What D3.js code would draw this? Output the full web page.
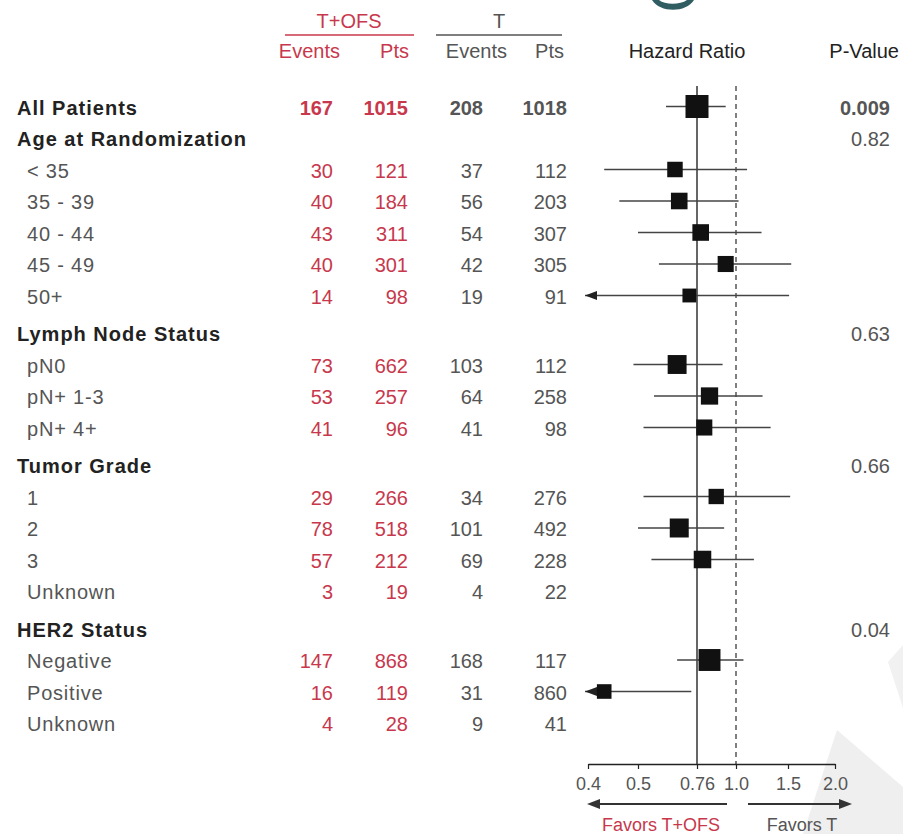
<!DOCTYPE html>
<html><head><meta charset="utf-8">
<script src="https://cdn.jsdelivr.net/npm/d3@7"></script>
<style>
body{margin:0;background:#fff;}
svg{display:block;font-family:"Liberation Sans",Arial,Helvetica,sans-serif;}
</style></head><body>
<svg id="chart" width="903" height="834"></svg>
<script>
// ---------- DATA ----------
const labels = ["All Patients","Age at Randomization","< 35","35 - 39","40 - 44","45 - 49","50+",
  "Lymph Node Status","pN0","pN+ 1-3","pN+ 4+","Tumor Grade","1","2","3","Unknown",
  "HER2 Status","Negative","Positive","Unknown"];
const levels = [0,0,1,1,1,1,1,0,1,1,1,0,1,1,1,1,0,1,1,1];
const tofsEvents = [167,null,30,40,43,40,14,null,73,53,41,null,29,78,57,3,null,147,16,4];
const tofsPts    = [1015,null,121,184,311,301,98,null,662,257,96,null,266,518,212,19,null,868,119,28];
const tEvents    = [208,null,37,56,54,42,19,null,103,64,41,null,34,101,69,4,null,168,31,9];
const tPts       = [1018,null,112,203,307,305,91,null,112,258,98,null,276,492,228,22,null,117,860,41];
const hr     = [0.76,null,0.65,0.67,0.78,0.93,0.72,null,0.66,0.83,0.80,null,0.87,0.67,0.79,null,null,0.83,0.43,null];
const ciLow  = [0.61,null,0.43,0.46,0.50,0.58,0.33,null,0.49,0.56,0.52,null,0.52,0.50,0.55,null,null,0.66,0.25,null];
const ciHigh = [0.93,null,1.09,1.02,1.22,1.53,1.51,null,0.91,1.23,1.31,null,1.52,0.92,1.15,null,null,1.06,0.73,null];
const pValues = ["0.009","0.82",null,null,null,null,null,"0.63",null,null,null,"0.66",null,null,null,null,"0.04",null,null,null];
const tickValues = [0.4,0.5,0.76,1.0,1.5,2.0];
const tickLabels = ["0.4","0.5","0.76","1.0","1.5","2.0"];
const overallHR = 0.76, nullHR = 1.0;

// ---------- LAYOUT ----------
const svg = d3.select("#chart");
const RED = "#c8384c", GRAY = "#555", DARK = "#222";
const FS = 20;

// row positions (extra gap before each section header after the first)
let gapCount = 0;
const rowY = labels.map((d,i)=>{ if(levels[i]===0 && i>1) gapCount++; return i*31.5 + gapCount*6; });
const top0 = 107.5;
const yPos = i => top0 + rowY[i];

// HR scale (piecewise log, matching the irregular tick spacing of the reference axis)
const x = d3.scaleLog().domain(tickValues).range([588,638,697,736,788,835]);
const xMin = tickValues[0];

const events = tofsEvents.map((d,i)=> d==null?null:d+tEvents[i]);
const size = d3.scaleSqrt().domain([0,d3.max(events)]).range([10,23]);

// faint watermark shapes
svg.append("path").attr("d","M803,834 L837,730 L903,787 L903,834 Z").attr("fill","#efefef");
svg.append("path").attr("d","M888,662 L903,645 L903,708 Z").attr("fill","#f1f1f1");
// remnant (descender) of a cut-off title glyph
svg.append("path").attr("d","M652,0 C660,13 686,13 694,0 L687,0 C680,5 665,5 659,0 Z").attr("fill","#2f5d62");

// ---------- HEADERS ----------
const hdr = svg.append("g").attr("font-size",FS);
hdr.append("text").attr("x",349).attr("y",28).attr("text-anchor","middle").attr("fill",RED).text("T+OFS");
hdr.append("line").attr("x1",285).attr("x2",414).attr("y1",35).attr("y2",35).attr("stroke",RED).attr("stroke-width",1.5);
hdr.append("text").attr("x",499).attr("y",28).attr("text-anchor","middle").attr("fill",GRAY).text("T");
hdr.append("line").attr("x1",436).attr("x2",562).attr("y1",35).attr("y2",35).attr("stroke",GRAY).attr("stroke-width",1.5);
hdr.append("text").attr("x",340).attr("y",58).attr("text-anchor","end").attr("fill",RED).text("Events");
hdr.append("text").attr("x",409).attr("y",58).attr("text-anchor","end").attr("fill",RED).text("Pts");
hdr.append("text").attr("x",507).attr("y",58).attr("text-anchor","end").attr("fill",GRAY).text("Events");
hdr.append("text").attr("x",564).attr("y",58).attr("text-anchor","end").attr("fill",GRAY).text("Pts");
hdr.append("text").attr("x",687).attr("y",58).attr("text-anchor","middle").attr("fill",DARK).text("Hazard Ratio");
hdr.append("text").attr("x",899).attr("y",58).attr("text-anchor","end").attr("fill",DARK).text("P-Value");

// ---------- ROW LABELS & NUMBERS ----------
const rows = svg.append("g").attr("font-size",FS);
labels.forEach((lab,i)=>{
  const yy = yPos(i);
  const head = levels[i]===0;
  rows.append("text").attr("x", head?17:27).attr("y",yy).attr("dy","0.36em")
    .attr("font-weight", head?"bold":"normal").attr("letter-spacing", head?1:0.8)
    .attr("fill", head?DARK:GRAY).text(lab);
  const bold = i===0 ? "bold" : "normal";
  [[tofsEvents,333,RED],[tofsPts,408,RED],[tEvents,483,GRAY],[tPts,567,GRAY]].forEach(([arr,xx,col])=>{
    if(arr[i]!=null) rows.append("text").attr("x",xx).attr("y",yy).attr("dy","0.36em")
      .attr("text-anchor","end").attr("font-weight",bold).attr("fill",col).text(arr[i]);
  });
  if(pValues[i]!=null) rows.append("text").attr("x",890).attr("y",yy).attr("dy","0.36em")
    .attr("text-anchor","end").attr("font-weight",bold).attr("fill",GRAY).text(pValues[i]);
});

// ---------- FOREST ----------
const axisY = 764;
const f = svg.append("g");
f.append("line").attr("x1",x(overallHR)).attr("x2",x(overallHR)).attr("y1",86).attr("y2",axisY)
  .attr("stroke","#333").attr("stroke-width",1.5);
f.append("line").attr("x1",x(nullHR)).attr("x2",x(nullHR)).attr("y1",86).attr("y2",axisY)
  .attr("stroke","#555").attr("stroke-width",1.5).attr("stroke-dasharray","5,4");

hr.forEach((v,i)=>{
  if(v==null) return;
  const yy = yPos(i) - 1;
  const clipped = ciLow[i] < xMin;
  const xl = clipped ? x(xMin) - 3 : x(ciLow[i]);
  f.append("line").attr("x1",xl).attr("x2",x(ciHigh[i])).attr("y1",yy).attr("y2",yy)
    .attr("stroke","#444").attr("stroke-width",1.6);
  if(clipped){
    f.append("path").attr("d",`M${xl},${yy} L${xl+12},${yy-4.5} L${xl+12},${yy+4.5} Z`).attr("fill","#222");
  }
  const s = size(events[i]);
  f.append("rect").attr("x",x(v)-s/2).attr("y",yy-s/2).attr("width",s).attr("height",s).attr("fill","#111");
});

// axis
const axis = d3.axisBottom(x).tickValues(tickValues).tickFormat((d,i)=>tickLabels[i])
  .tickSize(5).tickSizeOuter(0).tickPadding(8);
const ag = svg.append("g").attr("transform",`translate(0,${axisY})`).call(axis);
ag.select(".domain").attr("stroke","#222").attr("stroke-width",1.5);
ag.selectAll(".tick line").attr("stroke","#222").attr("stroke-width",1.2);
ag.selectAll(".tick text").attr("font-size",18).attr("fill",GRAY).attr("font-family","Liberation Sans, Arial, sans-serif");

// favors arrows
const arrY = 804;
const aL1 = x(xMin)-1, aL2 = x(nullHR)-9, aR1 = x(nullHR)+12, aR2 = x(2.0)+17;
f.append("line").attr("x1",aL1+10).attr("x2",aL2).attr("y1",arrY).attr("y2",arrY).attr("stroke","#333").attr("stroke-width",2);
f.append("path").attr("d",`M${aL1},${arrY} L${aL1+13},${arrY-5} L${aL1+13},${arrY+5} Z`).attr("fill","#333");
f.append("line").attr("x1",aR1).attr("x2",aR2-10).attr("y1",arrY).attr("y2",arrY).attr("stroke","#333").attr("stroke-width",2);
f.append("path").attr("d",`M${aR2},${arrY} L${aR2-13},${arrY-5} L${aR2-13},${arrY+5} Z`).attr("fill","#333");
f.append("text").attr("x",(aL1+aL2)/2+4).attr("y",831).attr("text-anchor","middle").attr("font-size",18).attr("fill",RED).text("Favors T+OFS");
f.append("text").attr("x",(aR1+aR2)/2+2).attr("y",831).attr("text-anchor","middle").attr("font-size",18).attr("fill",GRAY).text("Favors T");
</script>
</body></html>
